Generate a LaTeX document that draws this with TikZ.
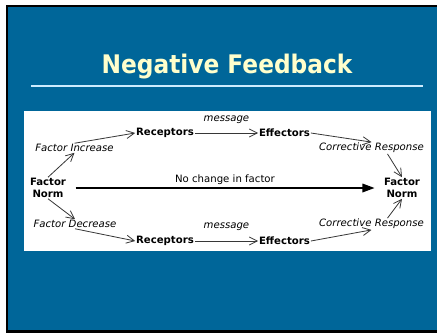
\documentclass[tikz,border=0pt]{standalone}
\usepackage{fontspec}
\setmainfont{DejaVu Sans}
\newfontfamily\titlefont{DejaVu Sans}[FakeStretch=0.91]
\usepackage{tikz}
\usepackage{xcolor}
\usetikzlibrary{arrows.meta}

\definecolor{slideblue}{RGB}{0,102,153}
\definecolor{titleyellow}{RGB}{255,255,204}
\definecolor{ruleblue}{RGB}{204,236,255}
\definecolor{linegray}{RGB}{55,55,55}

\begin{document}
\begin{tikzpicture}[x=0.75pt,y=0.75pt,yscale=-1,xscale=1,
  lbl/.style={inner sep=0.75pt,outer sep=0pt,font=\fontsize{7.6}{9}\selectfont},
  boldlbl/.style={lbl,font=\fontsize{7.6}{9}\selectfont\bfseries,align=center},
  slantlbl/.style={lbl,font=\fontsize{7.6}{9}\selectfont\itshape},
  link/.style={draw=linegray,line width=0.6pt,-{Straight Barb[length=6pt,width=6pt]}},
  mainlink/.style={draw=black,line width=0.9pt,-{Triangle[length=9pt,width=6.5pt]},shorten <=6.4pt,shorten >=6.4pt}
]
  \useasboundingbox (0,0) rectangle (437,333);
  %Shape: Slide background
  \fill [white] (0,0) rectangle (437,333);
  \fill [black] (6,5) rectangle (8,333);
  \fill [black] (6,5) rectangle (437,7);
  \fill [black] (6,330) rectangle (437,333);
  \fill [slideblue] (8,7) rectangle (437,330);
  %Straight Lines: title rule
  \draw [ruleblue,line width=1.5]  (31,86) -- (423,86);
  %Shape: Diagram panel
  \fill [white] (24,111) rectangle (431,251);

  % Text Node
  \node [inner sep=0pt,text=titleyellow,font=\titlefont\fontsize{19.2}{22}\selectfont\bfseries] (title) at (227,67) {Negative Feedback};

  % Text Node
  \node [boldlbl] (normL) at (48,188) {Factor\\Norm};
  % Text Node
  \node [boldlbl] (normR) at (402,188) {Factor\\Norm};
  % Text Node
  \node [slantlbl] (finc) at (74.5,148) {Factor Increase};
  % Text Node
  \node [slantlbl] (fdec) at (75,224) {Factor Decrease};
  % Text Node
  \node [boldlbl] (recT) at (165,133) {Receptors};
  % Text Node
  \node [boldlbl] (effT) at (284.5,133) {Effectors};
  % Text Node
  \node [boldlbl] (recB) at (165,241) {Receptors};
  % Text Node
  \node [boldlbl] (effB) at (284.5,241) {Effectors};
  % Text Node
  \node [slantlbl] (corT) at (371.5,148) {Corrective Response};
  % Text Node
  \node [slantlbl] (corB) at (371.5,224) {Corrective Response};

  %Straight Lines: upper branch
  \draw [link] (normL.north) -- (finc.south);
  \draw [link] (finc.north) -- (recT.west);
  \draw [link] (recT) -- node [slantlbl,above=6pt] (msgT) {message} (effT);
  \draw [link] (effT.east) -- (corT.north);
  \draw [link] ([xshift=12pt]corT.south) -- (normR.north);
  %Straight Lines: lower branch
  \draw [link] (normL.south) -- (fdec.north);
  \draw [link] (fdec.south) -- (recB.west);
  \draw [link] (recB) -- node [slantlbl,above=7pt] (msgB) {message} (effB);
  \draw [link] (effB.east) -- (corB.south);
  \draw [link] ([xshift=12pt]corB.north) -- (normR.south);
  %Straight Lines: no change
  \draw [mainlink] (normL) -- node [lbl,above=1.5pt] (nochg) {No change in factor} (normR);
\end{tikzpicture}
\end{document}
